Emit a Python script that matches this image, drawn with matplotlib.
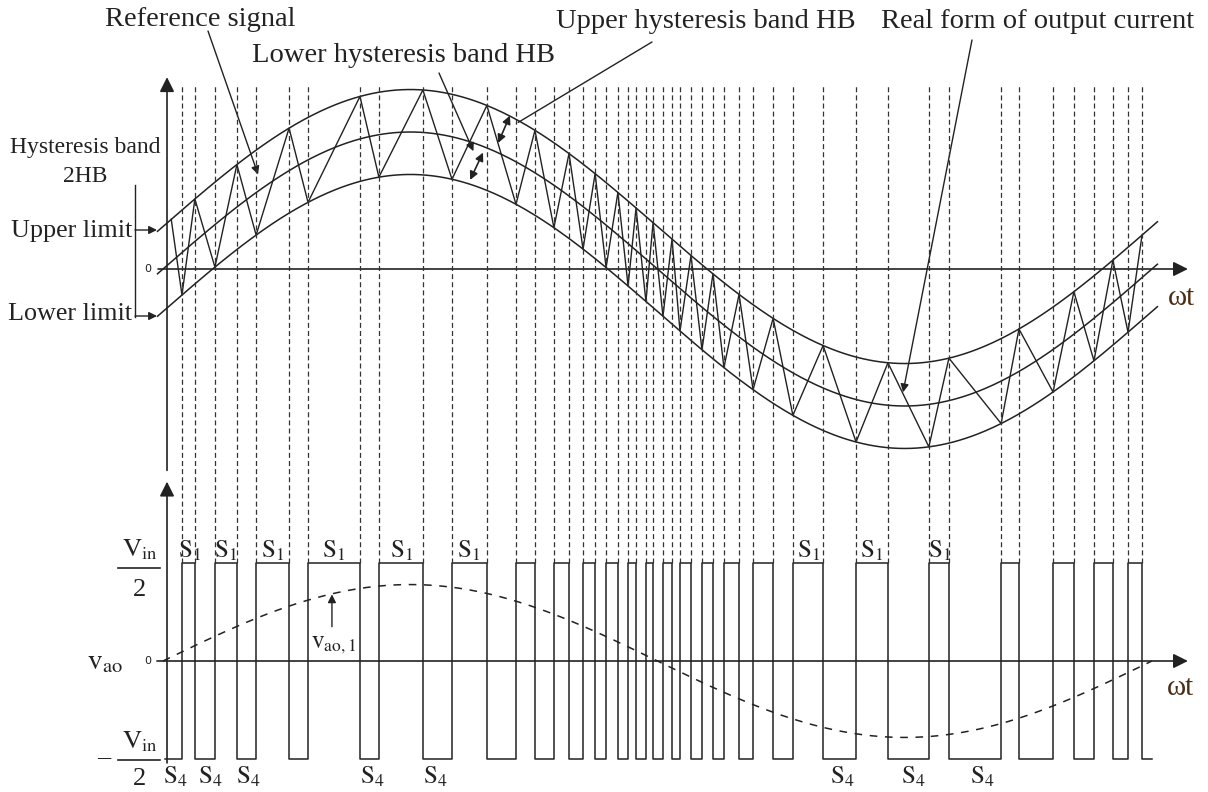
import numpy as np
import matplotlib.pyplot as plt

plt.rcParams['font.family'] = ['Liberation Serif', 'DejaVu Serif']
plt.rcParams['mathtext.fontset'] = 'stix'

# switching instants in degrees of wt, first one is S4 -> S1
switch_deg = [6.9, 11.6, 18.9, 26.9, 33.9, 45.9, 52.8, 71.7, 78.6, 94.6,
              105.2, 117.9, 128.5, 135.4, 142.3, 147.8, 152.9, 157.3, 161.3, 165.6,
              169.3, 172.2, 175.8, 178.4, 182.0, 185.3, 188.2, 192.2, 196.2, 200.2,
              204.2, 209.7, 214.8, 222.1, 229.3, 240.3, 252.3, 263.9, 278.8, 286.1,
              305.1, 311.6, 324.0, 331.6, 338.9, 345.8, 351.3, 356.4]
pwm_start, pwm_end = 0.7, 360.0
cur_start = 3.0
ref_amp = 1.0        # reference current amplitude
hb = 0.31            # hysteresis band HB
fund_amp = 0.78      # fundamental of v_ao relative to Vin/2
s1_pos = [9.8, 22.9, 40.0, 62.2, 86.7, 111.1, 235.2, 258.1, 282.9]
s4_pos = [4.4, 17.1, 30.9, 76.1, 99.0, 247.2, 273.0, 298.1]

W, H = 1208, 792
X0, PXD = 163, 2.747
TOP0, TOPS = 269, 137
BOT0, BOTS = 661, 98
col = '#222222'
wt_col = '#4a2e14'


def fp(x, y):
    return (x / W, 1 - y / H)


fig = plt.figure(figsize=(W / 100, H / 100), dpi=100)
xlim = (-X0 / PXD, (W - X0) / PXD)
ax_top = fig.add_axes([0, 0, 1, 1])
ax_top.set_xlim(xlim)
ax_top.set_ylim((TOP0 - H) / TOPS, TOP0 / TOPS)
ax_bot = fig.add_axes([0, 0, 1, 1])
ax_bot.set_xlim(xlim)
ax_bot.set_ylim((BOT0 - H) / BOTS, BOT0 / BOTS)
for ax in (ax_top, ax_bot):
    ax.axis('off')
    ax.patch.set_visible(False)

arrow_kw = dict(arrowstyle='-|>', mutation_scale=22, lw=1.2, color=col, shrinkA=0, shrinkB=0)

# ---- top panel: reference and hysteresis band
th = np.linspace(-2, 362, 500)
ref = ref_amp * np.sin(np.radians(th))
ax_top.plot(th, ref, color=col, lw=1.1)
ax_top.plot(th, ref + hb, color=col, lw=1.1)
ax_top.plot(th, ref - hb, color=col, lw=1.1)

# current zigzag between the bands
sw = np.array(switch_deg)
cx = np.concatenate([[cur_start], sw])
side = np.array([1] + [-1 if i % 2 == 0 else 1 for i in range(len(sw))])
cy = ref_amp * np.sin(np.radians(cx)) + side * hb
ax_top.plot(cx, cy, color=col, lw=1.0)

# axes of top panel
ax_top.annotate('', xy=(373.1, 0), xytext=(-1.8, 0), arrowprops=arrow_kw)
ax_top.annotate('', xy=(1.46, 1.40), xytext=(1.46, -1.47), arrowprops=arrow_kw)
ax_top.text(-5.5, 0, '0', family='DejaVu Sans', fontsize=8, ha='center', va='center', color=col)
fig.text(*fp(1181, 298), 'ωt', fontsize=21, ha='center', va='center', color=wt_col)

# hysteresis band bracket
fig.add_artist(plt.Line2D([135 / W, 135 / W], [1 - 185 / H, 1 - 317 / H], color=col, lw=1.0))
for yy in (230, 316):
    ax_top.annotate('', xy=fp(157, yy), xytext=fp(135, yy), xycoords='figure fraction',
                    textcoords='figure fraction',
                    arrowprops=dict(arrowstyle='-|>', mutation_scale=12, lw=1.0, color=col,
                                    shrinkA=0, shrinkB=0))
fig.text(*fp(85, 148), 'Hysteresis band', fontsize=17, ha='center', va='center', color=col)
fig.text(*fp(85, 177), '2HB', fontsize=17, ha='center', va='center', color=col)
fig.text(*fp(132, 231), 'Upper limit', fontsize=18.8, ha='right', va='center', color=col)
fig.text(*fp(132, 314), 'Lower limit', fontsize=18.8, ha='right', va='center', color=col)

# annotations with pointer lines
ptr = dict(arrowstyle='-|>', mutation_scale=12, lw=1.0, color=col, shrinkA=0, shrinkB=0)
fs_lab = 20.5
fig.text(*fp(200, 19), 'Reference signal', fontsize=fs_lab, ha='center', va='center', color=col)
ax_top.annotate('', xy=(34.6, 0.69), xytext=fp(208, 31), textcoords='figure fraction',
                arrowprops=ptr)
fig.text(*fp(404, 56), 'Lower hysteresis band HB', fontsize=fs_lab, ha='center', va='center',
         color=col)
ax_top.annotate('', xy=(113.0, 0.86), xytext=fp(439, 73), textcoords='figure fraction',
                arrowprops=ptr)
fig.text(*fp(706, 21), 'Upper hysteresis band HB', fontsize=fs_lab, ha='center', va='center',
         color=col)
ax_top.annotate('', xy=(129.3, 1.07), xytext=fp(652, 42), textcoords='figure fraction',
                arrowprops=dict(arrowstyle='-', lw=1.0, color=col, shrinkA=0, shrinkB=0))
fig.text(*fp(1038, 21), 'Real form of output current', fontsize=fs_lab, ha='center',
         va='center', color=col)
ax_top.annotate('', xy=(269.4, -0.90), xytext=fp(972, 40), textcoords='figure fraction',
                arrowprops=ptr)

# double arrows marking HB
dbl = dict(arrowstyle='<|-|>', mutation_scale=12, lw=1.2, color=col, shrinkA=0, shrinkB=0)
ax_top.annotate('', xy=(126.3, 1.12), xytext=(122.0, 0.92), arrowprops=dbl)
ax_top.annotate('', xy=(116.5, 0.85), xytext=(111.8, 0.65), arrowprops=dbl)

# ---- bottom panel: pole voltage
px = [pwm_start]
py = [-1]
level = -1
for t in switch_deg:
    px += [t, t]
    py += [level, -level]
    level = -level
px.append(pwm_end)
py.append(level)
ax_bot.plot(px, py, color=col, lw=1.1)

# dashed switching lines running up through the top panel
y_top = (BOT0 - 86) / BOTS
ax_bot.vlines(switch_deg, 1, y_top, colors='#333333', linestyles=(0, (4, 2.5)), lw=0.9)

# fundamental component
fx = np.linspace(0, 360, 400)
ax_bot.plot(fx, fund_amp * np.sin(np.radians(fx)), color=col, lw=1.1, ls=(0, (5, 5)))
ax_bot.annotate('', xy=(61.5, 0.68), xytext=(61.5, 0.35),
                arrowprops=dict(arrowstyle='-|>', mutation_scale=12, lw=1.0, color=col,
                                shrinkA=0, shrinkB=0))
ax_bot.text(62.0, 0.16, r'$\mathrm{v_{ao,1}}$', fontsize=18, ha='center', va='center', color=col)

# axes of bottom panel
ax_bot.annotate('', xy=(373.1, 0), xytext=(-2.2, 0), arrowprops=arrow_kw)
ax_bot.annotate('', xy=(1.46, 1.83), xytext=(1.46, -1.04), arrowprops=arrow_kw)
ax_bot.text(-5.5, 0, '0', family='DejaVu Sans', fontsize=8, ha='center', va='center', color=col)
fig.text(*fp(1180, 688), 'ωt', fontsize=21, ha='center', va='center', color=wt_col)

for x in s1_pos:
    ax_bot.text(x, 1.13, r'$\mathrm{S_1}$', fontsize=18, ha='center', va='center', color=col)
for x in s4_pos:
    ax_bot.text(x, -1.18, r'$\mathrm{S_4}$', fontsize=18, ha='center', va='center', color=col)

# Vin/2 fractions and v_ao label
fig.text(*fp(140, 550), r'$\mathrm{V_{in}}$', fontsize=19, ha='center', va='center', color=col)
fig.add_artist(plt.Line2D([118 / W, 160 / W], [1 - 568 / H] * 2, color=col, lw=1.2))
fig.text(*fp(140, 590), '2', fontsize=19, ha='center', va='center', color=col)
fig.text(*fp(140, 742), r'$\mathrm{V_{in}}$', fontsize=19, ha='center', va='center', color=col)
fig.add_artist(plt.Line2D([118 / W, 160 / W], [1 - 760 / H] * 2, color=col, lw=1.2))
fig.text(*fp(140, 779), '2', fontsize=19, ha='center', va='center', color=col)
fig.text(*fp(104, 757), '–', fontsize=19, ha='center', va='center', color=col)
fig.text(*fp(105, 662), r'$\mathrm{v_{ao}}$', fontsize=21, ha='center', va='center', color=col)

fig.savefig('out.png', dpi=100)
